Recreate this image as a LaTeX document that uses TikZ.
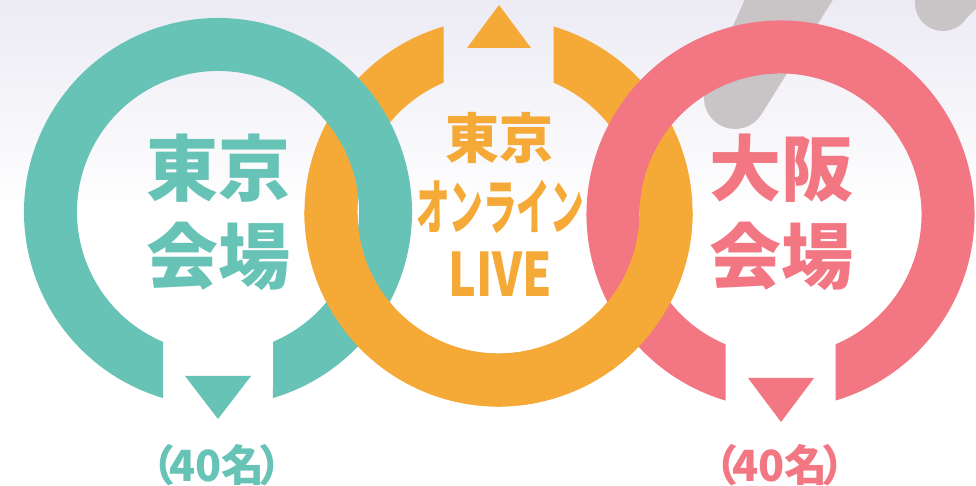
\documentclass[tikz,border=0pt]{standalone}
\usepackage{fontspec}
\usepackage{graphicx}
\newfontfamily\jpfont{Noto Sans CJK JP}
\definecolor{tealring}{HTML}{68C3B7}
\definecolor{orangering}{HTML}{F5AA38}
\definecolor{pinkring}{HTML}{F27782}
\definecolor{streak}{RGB}{201,196,198}
\definecolor{bgtop}{RGB}{236,235,244}

% ring with a straight cut gap, #2 = direction of the gap
\newcommand{\openring}[3]{%
	\pgfmathsetmacro{\rgOs}{#2+16.47}%
	\pgfmathsetmacro{\rgOe}{#2+343.53}%
	\pgfmathsetmacro{\rgIs}{#2+337.04}%
	\pgfmathsetmacro{\rgIe}{#2+22.96}%
	\fill[#3] ([shift={(\rgOs:194)}]#1) arc[start angle=\rgOs, end angle=\rgOe, radius=194]
		-- ([shift={(\rgIs:141)}]#1) arc[start angle=\rgIs, end angle=\rgIe, radius=141] -- cycle;}

\begin{document}
\begin{tikzpicture}[x=1pt,y=1pt,
		bigtxt/.style={inner sep=0pt, font=\jpfont\bfseries\fontsize{72}{72}\selectfont},
		numtxt/.style={inner sep=0pt, font=\jpfont\bfseries\fontsize{43}{43}\selectfont},
		livetxt/.style={inner sep=0pt, text=orangering, font=\jpfont\bfseries\fontsize{60}{60}\selectfont}]
	\useasboundingbox (0,0) rectangle (976,486);
	\clip (0,0) rectangle (976,486);
	\fill[white] (0,0) rectangle (976,486);
	\shade[top color=bgtop, bottom color=white] (0,270) rectangle (976,486);
	% grey strokes behind
	\fill[streak] (706.3,399.6) arc[start angle=158, end angle=328, radius=31] -- (839,496) -- (749,496) -- cycle;
	\fill[streak] (917,493.5) arc[start angle=158, end angle=328, radius=28] -- (1000,500) -- (915,500) -- cycle;
	
	\coordinate (tc) at (218,274);
	\coordinate (oc) at (498.5,273.5);
	\coordinate (pc) at (780.5,271.5);
	
	% rings
	\openring{oc}{90}{orangering}
	\fill[orangering] (467,438) -- (531,438) -- (499,481) -- cycle;
	\openring{tc}{-90}{tealring}
	\fill[tealring] (185,110) -- (251,110) -- (218,67) -- cycle;
	\openring{pc}{-90}{pinkring}
	\fill[pinkring] (748,108) -- (814,108) -- (781,64) -- cycle;
	\begin{scope}
		\clip (0,0) rectangle (976,273.5);
		\openring{oc}{90}{orangering}
	\end{scope}
	
	\node[bigtxt, text=tealring] (tkyA) at (218,317.5) {東京};
	\node[bigtxt, text=tealring] (tkyB) at (218,229.5) {会場};
	\node[bigtxt, text=pinkring] (osaA) at (781,317.5) {大阪};
	\node[bigtxt, text=pinkring] (osaB) at (781,229.5) {会場};
	\node[numtxt, text=tealring] (tkyN) at (217,21) {（\kern-.15em 40名\kern-.15em）};
	\node[numtxt, text=pinkring] (osaN) at (780,21) {（\kern-.15em 40名\kern-.15em）};
	\node[livetxt, font=\jpfont\bfseries\fontsize{54}{54}\selectfont] (onlA) at (499,348) {東京};
	\node[livetxt] (onlB) at (500,279) {\scalebox{0.56}[1]{オンライン}};
	\node[livetxt] (onlC) at (500,212) {\scalebox{0.78}[1]{LIVE}};
\end{tikzpicture}
\end{document}
